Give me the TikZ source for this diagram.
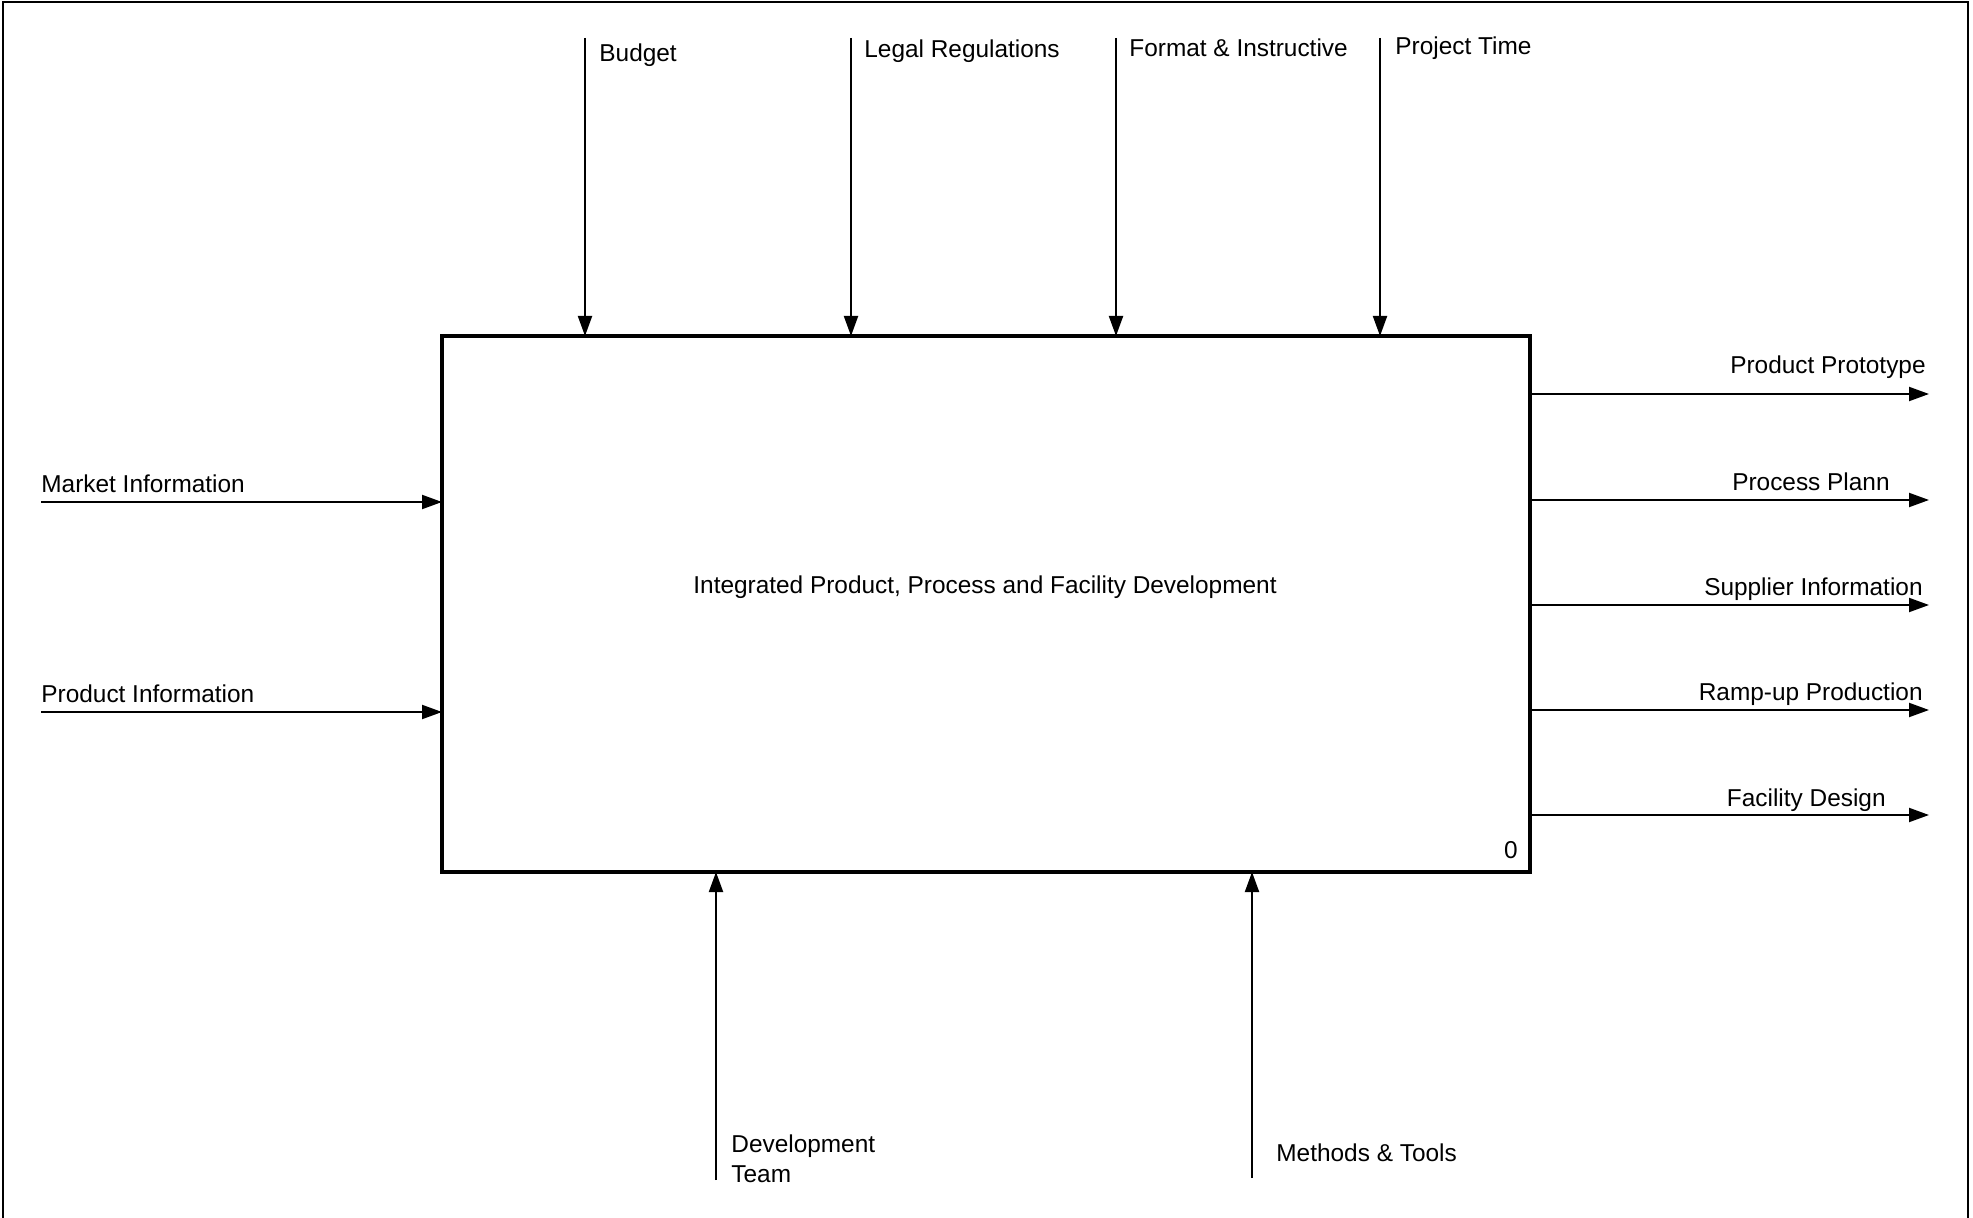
\documentclass[tikz,border=0pt]{standalone}
\usepackage{fontspec}
\setmainfont{Liberation Sans}
\usetikzlibrary{arrows.meta}
\begin{document}
\begin{tikzpicture}[x=0.5pt,y=-0.5pt,
  lbl/.style={font=\fontsize{12.2}{15}\selectfont, inner sep=0pt},
  flow/.style={line width=1pt, -{Triangle[length=10pt,width=7pt]}},
  border/.style={line width=1pt},
  activity/.style={draw, line width=2pt, minimum width=544pt, minimum height=268pt, inner sep=0pt, outer sep=0pt}]
\useasboundingbox (0,0) rectangle (1973,1218);
% page frame
\draw[border] (3,1218) -- (3,2) -- (1968,2) -- (1968,1218);

% activity box
\node[activity] (box) at (986,604) {};
\node[lbl] (title) at (985,587) {Integrated Product, Process and Facility Development};
\node[lbl] (num) at (1511,850) {0};

% controls (top)
\coordinate (cBudget) at (585,38);
\coordinate (cLegal) at (851,38);
\coordinate (cFormat) at (1116,38);
\coordinate (cTime) at (1380,38);
\node[lbl, anchor=west] (lBudget) at (599,55) {Budget};
\node[lbl, anchor=west] (lLegal) at (864,51) {Legal Regulations};
\node[lbl, anchor=west] (lFormat) at (1129,48) {Format \& Instructive};
\node[lbl, anchor=west] (lTime) at (1395,48) {Project Time};
\foreach \c in {cBudget,cLegal,cFormat,cTime}
  \draw[flow] (\c) -- (\c |- box.north);

% inputs (left)
\coordinate (iMarket) at (41,502);
\coordinate (iProduct) at (41,712);
\node[lbl, anchor=west] (lMarket) at (41,484) {Market Information};
\node[lbl, anchor=west] (lProduct) at (41,694) {Product Information};
\foreach \c in {iMarket,iProduct}
  \draw[flow] (\c) -- (\c -| box.west);

% outputs (right)
\coordinate (oProto) at (1929,394);
\coordinate (oPlan) at (1929,500);
\coordinate (oSupp) at (1929,605);
\coordinate (oRamp) at (1929,710);
\coordinate (oFac) at (1929,815);
\node[lbl, anchor=east] (lProto) at (1926,367) {Product Prototype};
\node[lbl, anchor=east] (lPlan) at (1890,482) {Process Plann};
\node[lbl, anchor=east] (lSupp) at (1923,589) {Supplier Information};
\node[lbl, anchor=east] (lRamp) at (1923,694) {Ramp-up Production};
\node[lbl, anchor=east] (lFac) at (1886,800) {Facility Design};
\foreach \c in {oProto,oPlan,oSupp,oRamp,oFac}
  \draw[flow] (\c -| box.east) -- (\c);

% mechanisms (bottom)
\coordinate (mTeam) at (716,1180);
\coordinate (mTools) at (1252,1178);
\node[lbl, anchor=west, align=left] (lTeam) at (731,1159) {Development\\Team};
\node[lbl, anchor=west] (lTools) at (1276,1153) {Methods \& Tools};
\foreach \c in {mTeam,mTools}
  \draw[flow] (\c) -- (\c |- box.south);
\end{tikzpicture}
\end{document}
